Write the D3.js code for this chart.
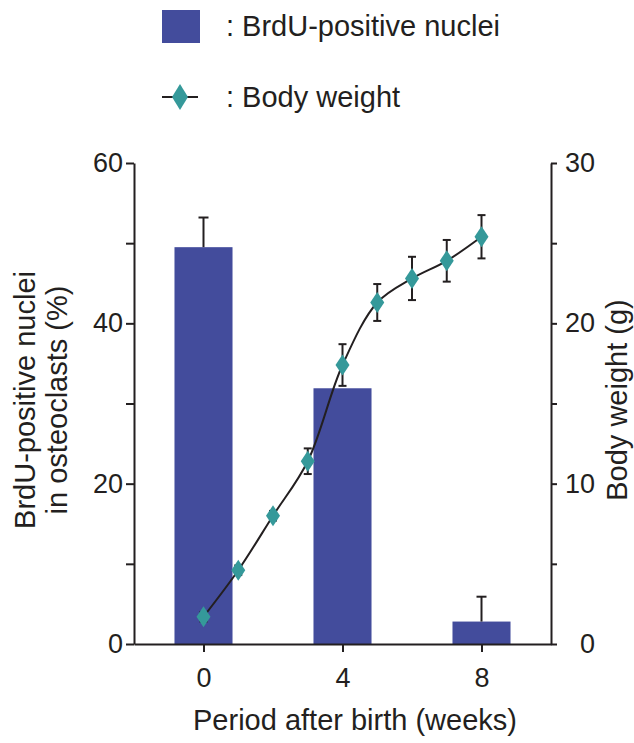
<!DOCTYPE html>
<html>
<head>
<meta charset="utf-8">
<script src="https://cdn.jsdelivr.net/npm/d3@7"></script>
<style>
  body { margin: 0; background: #fff; }
  svg text { font-family: "Liberation Sans", Arial, sans-serif; fill: #231f20; }
</style>
</head>
<body>
<svg id="svg"></svg>
<script>
// bars: BrdU-positive nuclei (%)
const barWeeks = [0, 4, 8];
const barValues = [49.5, 31.9, 2.8];
const barErrors = [3.7, 0, 3.1];

// line: body weight (g)
const weightWeeks = [0, 1, 2, 3, 4, 5, 6, 7, 8];
const weightValues = [1.7, 4.6, 8.0, 11.4, 17.4, 21.3, 22.8, 23.9, 25.4];
const weightErrors = [0.3, 0.3, 0.3, 0.8, 1.3, 1.15, 1.35, 1.3, 1.35];

const leftTicks = [0, 10, 20, 30, 40, 50, 60];
const rightTicks = [0, 5, 10, 15, 20, 25, 30];
const xTicks = [0, 4, 8];

const W = 634, H = 743;
const barColor = "#434c9c", teal = "#35999a", ink = "#231f20";
const titleSize = "29px";

const svg = d3.select("#svg").attr("width", W).attr("height", H);

const x = d3.scaleLinear().domain([-2, 10]).range([134, 551]);
const yL = d3.scaleLinear().domain([0, 60]).range([644, 163]);
const yR = d3.scaleLinear().domain([0, 30]).range([644, 163]);

// bars
const halfBar = 0.835;
svg.append("g").selectAll("rect")
    .data(barValues)
    .join("rect")
    .attr("x", (d, i) => x(barWeeks[i] - halfBar))
    .attr("width", (d, i) => x(barWeeks[i] + halfBar) - x(barWeeks[i] - halfBar))
    .attr("y", d => yL(d))
    .attr("height", d => yL(0) - yL(d))
    .attr("fill", barColor);

// bar error bars (upper only)
const be = svg.append("g").attr("stroke", ink).attr("stroke-width", 2);
barValues.forEach((v, i) => {
    if (!barErrors[i]) return;
    const cx = x(barWeeks[i]);
    be.append("line").attr("x1", cx).attr("x2", cx)
        .attr("y1", yL(v)).attr("y2", yL(v + barErrors[i]));
    be.append("line").attr("x1", cx - 5).attr("x2", cx + 5)
        .attr("y1", yL(v + barErrors[i])).attr("y2", yL(v + barErrors[i]));
});

// axes
function styleAxis(g) {
    g.selectAll("path, line").attr("stroke", ink).attr("stroke-width", 2);
    g.selectAll("text").style("font-size", "27px").attr("fill", ink)
        .style("font-family", '"Liberation Sans", Arial, sans-serif');
}

svg.append("g")
    .attr("transform", "translate(134,0)")
    .call(d3.axisLeft(yL).tickValues(leftTicks)
        .tickFormat(d => d % 20 === 0 ? d : "")
        .tickSize(8).tickPadding(3).tickSizeOuter(0))
    .call(styleAxis);

svg.append("g")
    .attr("transform", "translate(551,0)")
    .call(d3.axisRight(yR).tickValues(rightTicks)
        .tickFormat(d => d % 10 === 0 ? d : "")
        .tickSize(6).tickSizeOuter(0))
    .call(styleAxis)
    .call(g => g.selectAll("text").attr("text-anchor", "end").attr("x", 44));

svg.append("g")
    .attr("transform", "translate(0,644)")
    .call(d3.axisBottom(x).tickValues(xTicks)
        .tickSize(8).tickPadding(16).tickSizeOuter(0))
    .call(styleAxis);

// body weight line
const line = d3.line()
    .x((d, i) => x(weightWeeks[i]))
    .y(d => yR(d))
    .curve(d3.curveCatmullRom.alpha(0.5));

svg.append("path")
    .datum(weightValues)
    .attr("fill", "none")
    .attr("stroke", ink)
    .attr("stroke-width", 2)
    .attr("d", line);

const we = svg.append("g").attr("stroke", ink).attr("stroke-width", 2);
weightValues.forEach((v, i) => {
    const cx = x(weightWeeks[i]);
    const lo = yR(v - weightErrors[i]), hi = yR(v + weightErrors[i]);
    we.append("line").attr("x1", cx).attr("x2", cx).attr("y1", lo).attr("y2", hi);
    we.append("line").attr("x1", cx - 4).attr("x2", cx + 4).attr("y1", lo).attr("y2", lo);
    we.append("line").attr("x1", cx - 4).attr("x2", cx + 4).attr("y1", hi).attr("y2", hi);
});

const diamond = (w, h) => `M0,${-h}L${w},0L0,${h}L${-w},0Z`;

svg.append("g").selectAll("path")
    .data(weightValues)
    .join("path")
    .attr("transform", (d, i) => `translate(${x(weightWeeks[i])},${yR(d)})`)
    .attr("d", diamond(7, 10.5))
    .attr("fill", teal);

// axis titles
svg.append("text")
    .attr("transform", "translate(25,400) rotate(-90)")
    .attr("text-anchor", "middle")
    .attr("dy", "0.35em")
    .style("font-size", titleSize)
    .text("BrdU-positive nuclei");
svg.append("text")
    .attr("transform", "translate(57,400) rotate(-90)")
    .attr("text-anchor", "middle")
    .attr("dy", "0.35em")
    .style("font-size", titleSize)
    .text("in osteoclasts (%)");
svg.append("text")
    .attr("transform", "translate(617,400) rotate(-90)")
    .attr("text-anchor", "middle")
    .attr("dy", "0.35em")
    .style("font-size", titleSize)
    .text("Body weight (g)");
svg.append("text")
    .attr("x", 355).attr("y", 730)
    .attr("text-anchor", "middle")
    .style("font-size", titleSize)
    .text("Period after birth (weeks)");

// legend
svg.append("rect").attr("x", 162).attr("y", 10).attr("width", 38).attr("height", 33)
    .attr("fill", barColor);
svg.append("text").attr("x", 226).attr("y", 36).style("font-size", titleSize)
    .text(": BrdU-positive nuclei");
svg.append("line").attr("x1", 162).attr("x2", 198).attr("y1", 97).attr("y2", 97)
    .attr("stroke", ink).attr("stroke-width", 2);
svg.append("path").attr("transform", "translate(180,97)")
    .attr("d", diamond(8, 13)).attr("fill", teal);
svg.append("text").attr("x", 226).attr("y", 107).style("font-size", titleSize)
    .text(": Body weight");
</script>
</body>
</html>
